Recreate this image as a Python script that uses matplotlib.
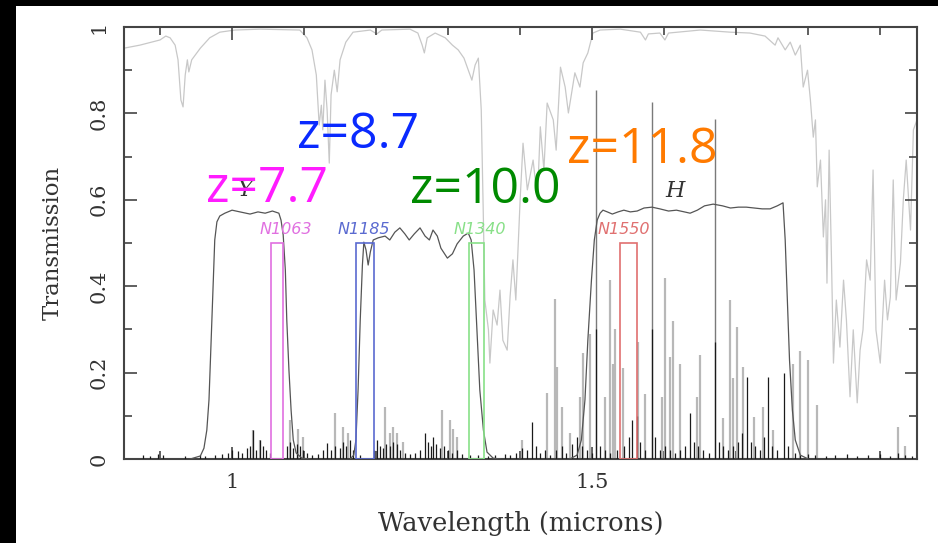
import matplotlib
matplotlib.use("Agg")
import matplotlib.pyplot as plt
from matplotlib.patches import Rectangle
from matplotlib.ticker import FixedLocator, MultipleLocator

# ---------------- data ----------------
# atmospheric transmission (light grey)
atm_w = [0.850, 0.872, 0.900, 0.908, 0.914, 0.921, 0.925, 0.929, 0.932, 0.935, 0.938, 0.940, 0.944,
         0.956, 0.969, 0.983, 1.004, 1.039, 1.094, 1.104, 1.111, 1.117, 1.121, 1.124, 1.126, 1.129,
         1.132, 1.135, 1.1375, 1.142, 1.146, 1.150, 1.158, 1.168, 1.192, 1.201, 1.208, 1.247, 1.258,
         1.264, 1.267, 1.271, 1.282, 1.296, 1.306, 1.314, 1.322, 1.328, 1.333, 1.3375, 1.342, 1.346,
         1.349, 1.351, 1.356, 1.358, 1.3625, 1.368, 1.372, 1.376, 1.382, 1.386, 1.390, 1.394, 1.400,
         1.404, 1.410, 1.418, 1.424, 1.428, 1.433, 1.4375, 1.446, 1.450, 1.456, 1.4625, 1.467, 1.476,
         1.483, 1.4875, 1.494, 1.501, 1.511, 1.539, 1.567, 1.574, 1.578, 1.594, 1.601, 1.606, 1.650,
         1.692, 1.719, 1.740, 1.754, 1.758, 1.768, 1.775, 1.782, 1.789, 1.793, 1.799, 1.803, 1.807,
         1.810, 1.8125, 1.817, 1.821, 1.824, 1.826, 1.829, 1.832, 1.835, 1.839, 1.844, 1.849, 1.853,
         1.858, 1.8625, 1.868, 1.872, 1.876, 1.881, 1.886, 1.890, 1.894, 1.900, 1.906, 1.910, 1.914,
         1.918, 1.922, 1.928, 1.932, 1.936, 1.942, 1.946, 1.951]
atm_t = [0.951, 0.958, 0.970, 0.979, 0.975, 0.958, 0.924, 0.831, 0.815, 0.889, 0.924, 0.896, 0.924,
         0.951, 0.975, 0.988, 0.993, 0.995, 0.993, 0.975, 0.947, 0.889, 0.773, 0.819, 0.762, 0.877,
         0.808, 0.685, 0.843, 0.900, 0.850, 0.924, 0.965, 0.988, 0.993, 0.984, 0.993, 0.995, 0.986,
         0.958, 0.940, 0.975, 0.986, 0.975, 0.958, 0.947, 0.928, 0.900, 0.877, 0.912, 0.928, 0.808,
         0.553, 0.368, 0.299, 0.222, 0.345, 0.310, 0.391, 0.275, 0.252, 0.375, 0.461, 0.368, 0.600,
         0.731, 0.623, 0.692, 0.600, 0.769, 0.669, 0.824, 0.785, 0.715, 0.907, 0.861, 0.801, 0.894,
         0.861, 0.917, 0.940, 0.986, 0.993, 0.995, 0.988, 0.970, 0.984, 0.986, 0.970, 0.986, 0.993,
         0.988, 0.986, 0.979, 0.958, 0.975, 0.947, 0.965, 0.935, 0.958, 0.861, 0.900, 0.831, 0.745,
         0.785, 0.630, 0.692, 0.514, 0.600, 0.407, 0.715, 0.484, 0.222, 0.368, 0.259, 0.414, 0.322,
         0.144, 0.299, 0.130, 0.252, 0.299, 0.461, 0.414, 0.669, 0.299, 0.222, 0.414, 0.322, 0.375,
         0.646, 0.368, 0.454, 0.600, 0.692, 0.530, 0.762, 0.785]

# broad-band filters
y_w = [0.942, 0.956, 0.961, 0.965, 0.968, 0.971, 0.974, 0.976, 0.979, 0.983, 0.990, 1.000, 1.011,
       1.025, 1.036, 1.046, 1.056, 1.065, 1.068, 1.071, 1.074, 1.076, 1.079, 1.082, 1.085, 1.089,
       1.097, 1.108]
y_t = [0.0, 0.007, 0.025, 0.067, 0.137, 0.275, 0.414, 0.507, 0.549, 0.5625, 0.569, 0.576, 0.572,
       0.567, 0.572, 0.569, 0.574, 0.569, 0.553, 0.519, 0.4375, 0.322, 0.206, 0.113, 0.044, 0.014,
       0.002, 0.0]
j_w = [1.164, 1.169, 1.172, 1.175, 1.178, 1.181, 1.183, 1.186, 1.189, 1.192, 1.196, 1.203, 1.2125,
       1.219, 1.226, 1.233, 1.240, 1.246, 1.253, 1.261, 1.268, 1.274, 1.279, 1.285, 1.290, 1.299,
       1.306, 1.3125, 1.321, 1.328, 1.332, 1.336, 1.340, 1.344, 1.349, 1.354, 1.3625, 1.372]
j_t = [0.0, 0.009, 0.044, 0.160, 0.322, 0.449, 0.502, 0.484, 0.449, 0.479, 0.507, 0.512, 0.516,
       0.507, 0.525, 0.535, 0.521, 0.507, 0.521, 0.535, 0.516, 0.507, 0.530, 0.516, 0.488, 0.465,
       0.475, 0.498, 0.516, 0.523, 0.507, 0.4375, 0.299, 0.160, 0.067, 0.016, 0.002, 0.0]
h_w = [1.469, 1.479, 1.485, 1.490, 1.494, 1.499, 1.503, 1.507, 1.511, 1.515, 1.521, 1.528, 1.536,
       1.544, 1.553, 1.5625, 1.572, 1.583, 1.594, 1.606, 1.617, 1.628, 1.636, 1.646, 1.656, 1.668,
       1.681, 1.692, 1.703, 1.714, 1.725, 1.736, 1.747, 1.757, 1.765, 1.768, 1.771, 1.774, 1.778,
       1.782, 1.789, 1.800]
h_t = [0.0, 0.009, 0.044, 0.137, 0.275, 0.414, 0.507, 0.553, 0.569, 0.576, 0.572, 0.567, 0.572,
       0.576, 0.572, 0.574, 0.581, 0.583, 0.579, 0.574, 0.576, 0.572, 0.569, 0.576, 0.586, 0.590,
       0.586, 0.581, 0.583, 0.583, 0.581, 0.579, 0.579, 0.586, 0.593, 0.507, 0.368, 0.229, 0.113,
       0.044, 0.009, 0.0]

# narrow-band filters
nb_names = ["N1063", "N1185", "N1340", "N1550"]
nb_lo = [1.054, 1.172, 1.329, 1.539]
nb_hi = [1.071, 1.197, 1.350, 1.5625]
nb_top = [0.50, 0.50, 0.50, 0.50]
nb_label_x = [1.074, 1.183, 1.344, 1.544]
nb_colors = ["#e070e0", "#5a6ad0", "#88e088", "#e07070"]

# OH sky emission lines
dark_w = [0.876, 0.886, 0.897, 0.904, 0.935, 0.956, 0.9625, 0.976, 0.986, 0.994, 1.000, 1.008, 1.014,
          1.021, 1.025, 1.029, 1.033, 1.039, 1.043, 1.047, 1.053, 1.076, 1.081, 1.085, 1.090, 1.094,
          1.099, 1.104, 1.111, 1.119, 1.126, 1.132, 1.1375, 1.143, 1.150, 1.154, 1.158, 1.164, 1.168,
          1.178, 1.197, 1.201, 1.206, 1.210, 1.214, 1.219, 1.224, 1.229, 1.233, 1.240, 1.247, 1.254,
          1.261, 1.268, 1.272, 1.276, 1.279, 1.283, 1.289, 1.294, 1.300, 1.306, 1.3125, 1.319, 1.331,
          1.342, 1.356, 1.365, 1.379, 1.386, 1.394, 1.403, 1.410, 1.417, 1.422, 1.428, 1.435, 1.442,
          1.450, 1.458, 1.464, 1.472, 1.479, 1.486, 1.493, 1.500, 1.506, 1.511, 1.518, 1.525, 1.535,
          1.544, 1.551, 1.556, 1.5625, 1.567, 1.574, 1.583, 1.5875, 1.594, 1.601, 1.608, 1.615, 1.622,
          1.629, 1.636, 1.642, 1.647, 1.654, 1.6625, 1.671, 1.676, 1.682, 1.689, 1.696, 1.703, 1.708,
          1.715, 1.721, 1.726, 1.733, 1.739, 1.744, 1.750, 1.757, 1.767, 1.772, 1.782, 1.789, 1.800,
          1.810, 1.824, 1.8375, 1.854, 1.868, 1.883, 1.900, 1.914, 1.925, 1.935, 1.944]
dark_h = [0.01, 0.008, 0.012, 0.01, 0.006, 0.01, 0.008, 0.01, 0.012, 0.015, 0.02, 0.018, 0.015,
          0.025, 0.03, 0.067, 0.02, 0.044, 0.03, 0.02, 0.015, 0.03, 0.04, 0.025, 0.035, 0.03,
          0.02, 0.015, 0.01, 0.012, 0.02, 0.037, 0.02, 0.03, 0.025, 0.04, 0.03, 0.045, 0.02,
          0.01, 0.02, 0.044, 0.03, 0.025, 0.035, 0.03, 0.04, 0.035, 0.02, 0.015, 0.012, 0.015,
          0.02, 0.06, 0.04, 0.03, 0.05, 0.035, 0.025, 0.03, 0.02, 0.015, 0.02, 0.012, 0.01,
          0.01, 0.008, 0.01, 0.012, 0.01, 0.015, 0.025, 0.02, 0.086, 0.03, 0.015, 0.02, 0.01,
          0.02, 0.03, 0.015, 0.035, 0.05, 0.03, 0.02, 0.015, 0.30, 0.03, 0.02, 0.015, 0.02,
          0.03, 0.05, 0.09, 0.10, 0.04, 0.02, 0.30, 0.05, 0.02, 0.03, 0.02, 0.015, 0.02,
          0.03, 0.107, 0.04, 0.03, 0.02, 0.015, 0.27, 0.04, 0.03, 0.02, 0.03, 0.04, 0.06,
          0.19, 0.04, 0.03, 0.02, 0.05, 0.19, 0.03, 0.02, 0.20, 0.03, 0.015, 0.01, 0.012,
          0.01, 0.008, 0.01, 0.012, 0.008, 0.01, 0.012, 0.008, 0.015, 0.01, 0.008]
light_w = [1.029, 1.039, 1.081, 1.092, 1.099, 1.143, 1.154, 1.161, 1.2125, 1.219, 1.224, 1.229,
           1.2375, 1.292, 1.303, 1.307, 1.3125, 1.403, 1.4375, 1.449, 1.451, 1.458, 1.469, 1.483,
           1.4875, 1.497, 1.518, 1.525, 1.529, 1.532, 1.543, 1.564, 1.574, 1.597, 1.601, 1.608,
           1.6125, 1.622, 1.646, 1.650, 1.682, 1.692, 1.696, 1.701, 1.710, 1.724, 1.7375, 1.751,
           1.779, 1.789, 1.800, 1.8125, 1.925, 1.935]
light_h = [0.067, 0.044, 0.09, 0.07, 0.05, 0.107, 0.074, 0.06, 0.12, 0.06, 0.074, 0.06,
           0.04, 0.113, 0.09, 0.07, 0.05, 0.044, 0.153, 0.37, 0.213, 0.12, 0.06, 0.143,
           0.245, 0.29, 0.143, 0.414, 0.22, 0.30, 0.21, 0.27, 0.15, 0.143, 0.42, 0.236,
           0.32, 0.22, 0.143, 0.24, 0.095, 0.368, 0.187, 0.306, 0.213, 0.097, 0.12, 0.067,
           0.22, 0.25, 0.23, 0.125, 0.074, 0.03]
tall_w = [1.506, 1.583, 1.671]
tall_h = [0.854, 0.826, 0.787]

# annotations
z_labels = ["z=7.7", "z=8.7", "z=10.0", "z=11.8"]
z_x = [0.964, 1.090, 1.247, 1.465]
z_y = [0.595, 0.720, 0.593, 0.685]
z_colors = ["#ff1cff", "#0a2aff", "#008a00", "#ff7a00"]
band_names = ["Y", "H"]
band_x = [1.019, 1.615]
band_y = [0.623, 0.620]

x_major = [1.0, 1.5]
x_major_labels = ["1", "1.5"]
y_major = [0, 0.2, 0.4, 0.6, 0.8, 1.0]
y_major_labels = ["0", "0.2", "0.4", "0.6", "0.8", "1"]

# ---------------- figure ----------------
W, H = 938, 543
fig = plt.figure(figsize=(W / 100, H / 100), dpi=100, facecolor="black")
fig.add_artist(Rectangle((16 / W, 0), (W - 16) / W, (H - 6) / H, transform=fig.transFigure,
                         facecolor="white", edgecolor="none", zorder=0))
ax = fig.add_axes([124 / W, (H - 459) / H, (917 - 124) / W, 432 / H])
ax.set_facecolor("white")

ax.plot(atm_w, atm_t, color="#c8c8c8", lw=0.9, zorder=1)
ax.vlines(light_w, 0, light_h, color="#b8b8b8", lw=1.6, zorder=2)
ax.vlines(tall_w, 0, tall_h, color="#7a7a7a", lw=1.0, zorder=2)
ax.vlines(dark_w, 0, dark_h, color="#1a1a1a", lw=0.9, zorder=3)

for fw, ft in ((y_w, y_t), (j_w, j_t), (h_w, h_t)):
    ax.plot(fw, ft, color="#555555", lw=0.9, zorder=4)

for lo, hi, top, c, name, lx in zip(nb_lo, nb_hi, nb_top, nb_colors, nb_names, nb_label_x):
    ax.add_patch(Rectangle((lo, 0), hi - lo, top, fill=False, edgecolor=c, lw=1.2, zorder=5))
    ax.text(lx, 0.532, name, color=c, fontsize=11.5, fontstyle="italic", ha="center", va="center",
            family="DejaVu Sans", zorder=6)

for name, bx, by in zip(band_names, band_x, band_y):
    ax.text(bx, by, name, fontsize=16, fontstyle="italic", family="DejaVu Serif", color="#333333",
            ha="center", va="center", zorder=6)

for lab, zx, zy, c in zip(z_labels, z_x, z_y, z_colors):
    ax.text(zx, zy, lab, fontsize=36, color=c, family="Open Sans", ha="left", va="baseline", zorder=7)

ax.set_xlim(0.85, 1.951)
ax.set_ylim(0, 1.0)
ax.xaxis.set_major_locator(FixedLocator(x_major))
ax.set_xticklabels(x_major_labels)
ax.xaxis.set_minor_locator(FixedLocator([0.9, 1.1, 1.2, 1.3, 1.4, 1.6, 1.7, 1.8, 1.9]))
ax.yaxis.set_major_locator(FixedLocator(y_major))
ax.set_yticklabels(y_major_labels, rotation=90, va="center")
ax.yaxis.set_minor_locator(MultipleLocator(0.1))
ax.tick_params(which="both", direction="in", top=True, right=True, color="#444444", width=1.2,
               labelcolor="#333333", labelsize=15)
ax.tick_params(which="major", length=9)
ax.tick_params(which="minor", length=5.5)
ax.tick_params(axis="x", pad=10)
ax.tick_params(axis="y", pad=11)
for lab in ax.get_xticklabels() + ax.get_yticklabels():
    lab.set_family("DejaVu Serif")
for sp in ax.spines.values():
    sp.set_color("#444444")
    sp.set_linewidth(1.5)

ax.set_xlabel("Wavelength (microns)", family="DejaVu Serif", fontsize=18.5, color="#333333", va="center")
ax.xaxis.set_label_coords(0.5, -0.150)
ax.set_ylabel("Transmission", family="DejaVu Serif", fontsize=16.5, color="#333333", va="center")
ax.yaxis.set_label_coords(-0.0895, 0.5)

fig.savefig("out.png", dpi=100, facecolor="black")
